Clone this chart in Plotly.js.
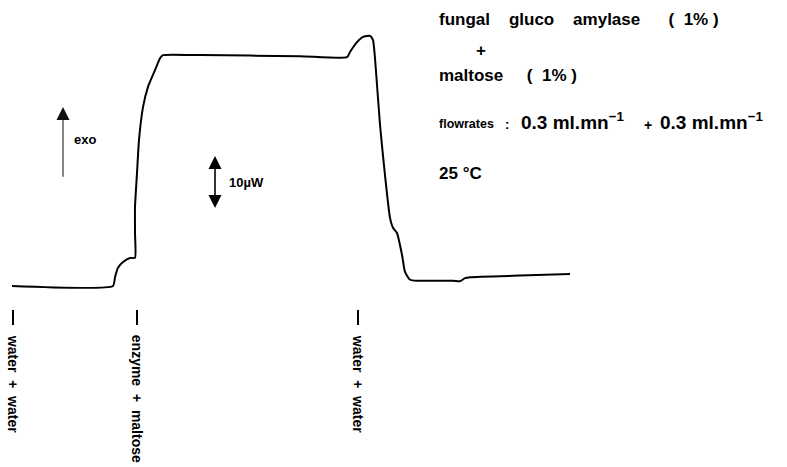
<!DOCTYPE html>
<html>
<head>
<meta charset="utf-8">
<script src="https://cdn.plot.ly/plotly-3.0.1.min.js"></script>
<style>html,body{margin:0;padding:0;background:#fff;}#chart{width:787px;height:467px;}</style>
</head>
<body>
<div id="chart"></div>
<script>
// time (arbitrary units) and heat flow (µW, relative to initial baseline)
const time = [12, 113, 115, 118, 123, 130, 135, 135, 135, 137, 139, 143, 148, 155, 160, 163, 200, 300, 347,
              350, 357, 363, 370, 373, 375, 380, 385, 390, 393, 397, 402, 405, 410, 418, 440, 453, 460, 465, 470, 520, 570];
const heatFlow = [0, 0, 1.7, 3.5, 4.6, 5.4, 5.4, 10.2, 15.2, 21.7, 28.1, 34.4, 38.3, 41.5, 43.8, 44.4, 44.4, 44.2, 44.0,
                  45.0, 46.9, 47.9, 48.1, 47.3, 43.8, 31.0, 21.3, 13.1, 11.2, 10.2, 6.0, 2.7, 1.2, 1.0, 1.0, 1.0, 0.9, 1.5, 1.7, 2.0, 2.3];

// injection events
const injectionTimes = [13, 137, 358];
const injectionLabels = ['water\u00a0\u00a0+\u00a0\u00a0water', 'enzyme\u00a0\u00a0+\u00a0\u00a0maltose', 'water\u00a0\u00a0+\u00a0\u00a0water'];

// scale bar (10 µW) and exo arrow
const scaleBarX = 215;
const scaleBarFrom = 15;
const scaleBarTo = 25;
const exoX = 63;
const exoFrom = 21.0;
const exoTo = 34.4;

const FONT = '"Liberation Sans", Arial, Helvetica, sans-serif';
const nb = n => '\u00a0'.repeat(n);
const PXY = 5.2;           // pixels per µW on the y axis (x axis: 1 px per unit)

const trace = {
  x: time, y: heatFlow, type: 'scatter', mode: 'lines',
  line: {color: '#000', width: 2, shape: 'spline', smoothing: 0.5},
  hoverinfo: 'skip'
};

const shapes = injectionTimes.map(t => ({
  type: 'line', xref: 'x', yref: 'y', x0: t, x1: t, y0: -4.6, y1: -7.5,
  line: {color: '#000', width: 2}
}));

// arrow head as a filled triangle path: tip at (x, y), dir +1 up / -1 down
function head(x, y, dir, w, h, color) {
  const b = y - dir * h / PXY;
  return {
    type: 'path', xref: 'x', yref: 'y',
    path: `M${x},${y} L${x - w / 2},${b} L${x + w / 2},${b} Z`,
    fillcolor: color, line: {color: color, width: 0}
  };
}
// exo arrow
shapes.push({type: 'line', xref: 'x', yref: 'y', x0: exoX, x1: exoX, y0: exoFrom, y1: exoTo - 10 / PXY,
             line: {color: '#444', width: 1.3}});
shapes.push(head(exoX, exoTo, 1, 13, 13, '#111'));
// 10 µW double arrow
shapes.push({type: 'line', xref: 'x', yref: 'y', x0: scaleBarX, x1: scaleBarX,
             y0: scaleBarFrom + 8 / PXY, y1: scaleBarTo - 8 / PXY, line: {color: '#000', width: 1.6}});
shapes.push(head(scaleBarX, scaleBarTo, 1, 13, 13, '#000'));
shapes.push(head(scaleBarX, scaleBarFrom, -1, 13, 13, '#000'));

const annotations = [];
injectionTimes.forEach((t, i) => {
  annotations.push({
    x: t, y: -9.0, xref: 'x', yref: 'y', text: '<b>' + injectionLabels[i] + '</b>',
    showarrow: false, textangle: 90, xanchor: 'center', yanchor: 'top',
    font: {family: FONT, size: 14, color: '#000'}
  });
});

annotations.push({
  x: 72, y: 28.1, xref: 'x', yref: 'y', text: '<b>exo</b>', showarrow: false,
  xanchor: 'left', yanchor: 'middle', font: {family: FONT, size: 13, color: '#000'}
});
annotations.push({
  x: 227, y: (scaleBarFrom + scaleBarTo) / 2, xref: 'x', yref: 'y', text: '<b>10µW</b>', showarrow: false,
  xanchor: 'left', yanchor: 'middle', font: {family: FONT, size: 13, color: '#000'}
});

// legend text block
const textLines = [
  {x: 437, py: 20, text: 'fungal' + nb(4) + 'gluco' + nb(4) + 'amylase' + nb(6) + '(' + nb(2) + '1%' + nb(1) + ')', size: 17, anchor: 'left'},
  {x: 481, py: 50, text: '+', size: 17, anchor: 'center'},
  {x: 437, py: 75, text: 'maltose' + nb(5) + '(' + nb(2) + '1%' + nb(1) + ')', size: 17, anchor: 'left'},
  {x: 437, py: 124, text: 'flowrates', size: 12.5, anchor: 'left'},
  {x: 507, py: 124, text: ':', size: 13, anchor: 'center'},
  {x: 519, py: 121, text: '0.3' + nb(1) + 'ml.mn<sup>−1</sup>', size: 19, anchor: 'left'},
  {x: 648, py: 125, text: '+', size: 14, anchor: 'center'},
  {x: 658, py: 121, text: '0.3' + nb(1) + 'ml.mn<sup>−1</sup>', size: 19, anchor: 'left'},
  {x: 437, py: 174, text: '25' + nb(1) + '°C', size: 17, anchor: 'left'}
];
textLines.forEach(l => annotations.push({
  x: l.x, y: 1 - l.py / 467, xref: 'x', yref: 'paper', text: '<b>' + l.text + '</b>', showarrow: false,
  xanchor: l.anchor, yanchor: 'middle', font: {family: FONT, size: l.size, color: '#000'}
}));

const layout = {
  width: 787, height: 467,
  margin: {l: 0, r: 0, t: 0, b: 0},
  paper_bgcolor: '#fff', plot_bgcolor: '#fff',
  showlegend: false,
  xaxis: {range: [0, 787], visible: false, fixedrange: true},
  yaxis: {range: [-34.81, 55], visible: false, fixedrange: true},
  shapes: shapes,
  annotations: annotations
};

Plotly.newPlot('chart', [trace], layout, {staticPlot: true, displayModeBar: false});
</script>
</body>
</html>
